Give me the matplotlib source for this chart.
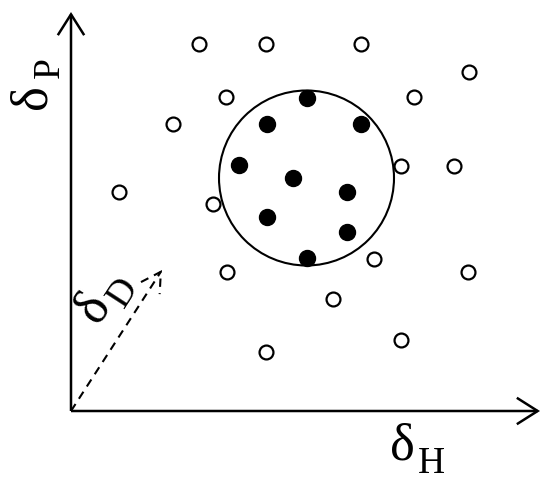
import numpy as np
import matplotlib
matplotlib.use("Agg")
import matplotlib.pyplot as plt
from matplotlib.patches import FancyArrowPatch, Circle

# solvent points (dH, dP) measured from the axis origin
open_h = [128, 195, 290, 398, 155, 343, 102, 330, 383, 48, 142, 303, 156, 397, 262, 330, 195]
open_p = [367, 367, 367, 339, 314, 314, 287, 245, 245, 219, 207, 152, 139, 139, 112, 71, 59]
good_h = [236, 196, 290, 168, 222, 276, 196, 276, 236]
good_p = [313, 287, 287, 246, 233, 219, 194, 179, 153]
sphere_center = (235.5, 233)
sphere_radius = 87.5

fig = plt.figure(figsize=(5.5, 4.88), dpi=100)
ax = fig.add_axes([0, 0, 1, 1])
ax.set_xlim(-71, 479)
ax.set_ylim(-77, 411)
ax.axis('off')

# axes arrows
def arrow(p0, p1, lw=1.8, ls='-', hl=1.5, hw=0.95):
    a = FancyArrowPatch(p0, p1, arrowstyle=f'->,head_length={hl},head_width={hw}',
                        mutation_scale=10, lw=lw, color='black', linestyle=ls,
                        shrinkA=0, shrinkB=0, joinstyle='miter', capstyle='butt')
    ax.add_patch(a)

arrow((0, 0), (0, 399))
arrow((0, 0), (469, 0))
arrow((0, 0), (91, 141), lw=1.5, ls=(0, (4, 3)), hl=1.4, hw=0.8)

# Hansen sphere
ax.add_patch(Circle(sphere_center, sphere_radius, fill=False, lw=1.5, color='black'))

ax.plot(open_h, open_p, 'o', ms=10, mfc='white', mec='black', mew=1.6, ls='None')
ax.plot(good_h, good_p, 'o', ms=11.5, mfc='black', mec='black', ls='None')

# axis labels: delta with a large subscript
def label(x, y, sub, angle):
    t = np.radians(angle)
    along = np.array([np.cos(t), np.sin(t)])
    down = np.array([np.sin(t), -np.cos(t)])
    sx, sy = np.array([x, y]) + 29 * along + 18 * down
    ax.text(x, y, 'δ', fontsize=38, family='Liberation Serif', rotation=angle,
            rotation_mode='anchor', ha='center', va='center')
    ax.text(sx, sy, sub, fontsize=27, family='Liberation Serif', rotation=angle,
            rotation_mode='anchor', ha='center', va='center')

label(331, -35, 'H', 0)
label(-39, 314, 'P', 90)
label(22, 104, 'D', 57)

fig.savefig('out.png', dpi=100)
